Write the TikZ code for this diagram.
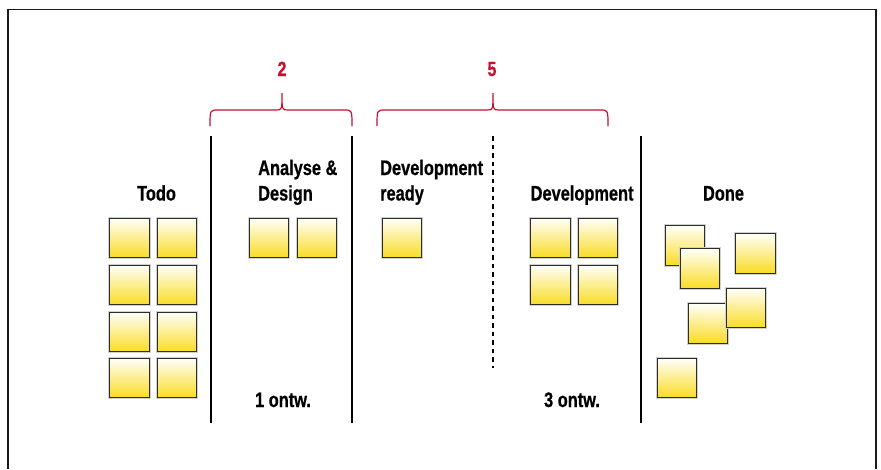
\documentclass[tikz,border=0pt]{standalone}
\usepackage{fontspec}
\setmainfont[FakeStretch=0.78,BoldFeatures={FakeBold=0.6}]{Liberation Sans}
\definecolor{bracered}{RGB}{200,16,46}
\definecolor{stickytop}{RGB}{255,255,250}
\definecolor{stickymid}{RGB}{252,238,160}
\definecolor{stickybot}{RGB}{249,220,36}
\definecolor{stickyedge}{RGB}{45,45,40}
\tikzset{
  sticky/.style={rectangle, minimum width=39.5pt, minimum height=39.5pt, inner sep=0pt,
    draw=stickyedge, line width=1.2pt, top color=stickytop, middle color=stickymid,
    bottom color=stickybot},
  halo/.style={rectangle, minimum width=42.5pt, minimum height=42.5pt, inner sep=0pt,
    fill=black!18},
  coltitle/.style={font=\fontsize{21}{25}\selectfont\bfseries, inner sep=0pt},
  wiplabel/.style={font=\fontsize{20.5}{24}\selectfont\bfseries, inner sep=0pt, text=bracered},
  colline/.style={line width=2.4pt, black},
  divline/.style={line width=2.4pt, black, dash pattern=on 4.5pt off 4pt},
  wipbrace/.style={line width=1.2pt, bracered},
  frameline/.style={line width=1.4pt, black!90}
}
\newcommand{\stickyat}[3]{%
  \node[halo] at (#2,#3) {};
  \node[sticky] (#1) at (#2,#3) {};}
\newcommand{\wipbracepath}[3]{%
  \draw[wipbrace] (#1,126) .. controls (#1,110) .. (#1+8,110) -- (#3-6,110)
     .. controls (#3,110) .. (#3,93) .. controls (#3,110) .. (#3+6,110)
     -- (#2-8,110) .. controls (#2,110) .. (#2,126);}
\begin{document}
\begin{tikzpicture}[x=1pt,y=-1pt]
\useasboundingbox (0,0) rectangle (881,469);
% outer frame (bottom edge outside the view)
\draw[frameline] (8,469) -- (8,9.5) -- (876,9.5) -- (876,469);

% column separators
\coordinate (s1t) at (211,136); \coordinate (s1b) at (211,423);
\coordinate (s2t) at (352,136); \coordinate (s2b) at (352,423);
\coordinate (s3t) at (641,136); \coordinate (s3b) at (641,423);
\coordinate (dvt) at (493,136); \coordinate (dvb) at (493,368);
\draw[colline] (s1t) -- (s1b);
\draw[colline] (s2t) -- (s2b);
\draw[colline] (s3t) -- (s3b);
\draw[divline] (dvt) -- (dvb);

% WIP braces and limits
\wipbracepath{210}{352}{282}
\wipbracepath{377}{608}{493}
\node[wiplabel, anchor=base] (wip1) at (282,76) {2};
\node[wiplabel, anchor=base] (wip2) at (492,76) {5};

% column titles
\node[coltitle, anchor=base] (todo) at (156.5,200.5) {Todo};
\node[coltitle, anchor=base west] (analyse) at (258,175) {Analyse \&};
\node[coltitle, anchor=base west] (design) at (258,200.5) {Design};
\node[coltitle, anchor=base west] (devready1) at (380,175) {Development};
\node[coltitle, anchor=base west] (devready2) at (380,200.5) {ready};
\node[coltitle, anchor=base west] (dev) at (530.5,200.5) {Development};
\node[coltitle, anchor=base] (done) at (723.5,200.5) {Done};
\node[coltitle, anchor=base] (wipa) at (283,407) {1 ontw.};
\node[coltitle, anchor=base] (wipd) at (572,407) {3 ontw.};

% Todo stickies
\stickyat{t11}{129.5}{238}
\stickyat{t12}{177}{238}
\stickyat{t21}{129.5}{285}
\stickyat{t22}{177}{285}
\stickyat{t31}{129.5}{332}
\stickyat{t32}{177}{332}
\stickyat{t41}{129.5}{378}
\stickyat{t42}{177}{378}

% Analyse & Design stickies
\stickyat{a1}{269}{238}
\stickyat{a2}{317}{238}

% Development ready sticky
\stickyat{r1}{402}{238}

% Development stickies
\stickyat{d11}{550.5}{238}
\stickyat{d12}{598}{238}
\stickyat{d21}{550.5}{285}
\stickyat{d22}{598}{285}

% Done stickies
\stickyat{n1}{685}{245.5}
\stickyat{n2}{700}{268.5}
\stickyat{n3}{755.5}{253.5}
\stickyat{n4}{708}{323.5}
\stickyat{n5}{746}{308}
\stickyat{n6}{677}{378}
\end{tikzpicture}
\end{document}
